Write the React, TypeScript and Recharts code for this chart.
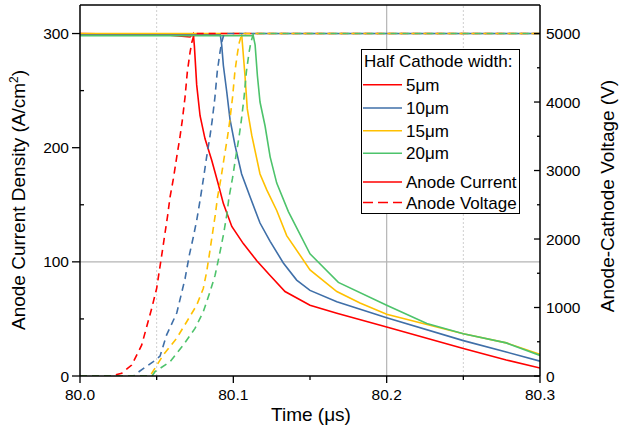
import React from 'react';
import { LineChart, Line, XAxis, YAxis, ReferenceLine } from 'recharts';

// time axis (µs) and tick positions
const timeTicks = [80.0, 80.05, 80.1, 80.15, 80.2, 80.25, 80.3];
const currentTicks = [0, 50, 100, 150, 200, 250, 300];
const voltageTicks = [0, 500, 1000, 1500, 2000, 2500, 3000, 3500, 4000, 4500, 5000];

// anode current density (A/cm2), one array pair per half cathode width
const t5Cur = [80.0, 80.055, 80.0718, 80.0739, 80.0746, 80.0761, 80.0783, 80.0815, 80.0859, 80.0902, 80.0935, 80.099, 80.1065, 80.1153, 80.124, 80.1337, 80.15, 80.1675, 80.2, 80.25, 80.278, 80.3];
const cur5 = [300, 299, 297, 300, 289, 255, 228, 208, 189, 168, 151, 131, 116, 101, 88, 74, 62, 55, 43, 24, 14, 7];

const t10Cur = [80.0, 80.0915, 80.0924, 80.0935, 80.0957, 80.0978, 80.1011, 80.1054, 80.1109, 80.1174, 80.124, 80.1326, 80.1413, 80.15, 80.1675, 80.2, 80.25, 80.278, 80.3];
const cur10 = [299, 299, 290, 272, 249, 225, 202, 177, 157, 134, 118, 99, 84, 75, 65, 51, 31, 21, 13];

const t15Cur = [80.0, 80.1054, 80.106, 80.1076, 80.1091, 80.112, 80.1174, 80.1218, 80.1283, 80.1348, 80.15, 80.1675, 80.1826, 80.2, 80.25, 80.278, 80.3];
const cur15 = [300, 300, 290, 263, 234, 211, 177, 163, 145, 123, 93, 74, 64, 54, 37, 29, 19];

const t20Cur = [80.0, 80.113, 80.1142, 80.1157, 80.1174, 80.1207, 80.124, 80.1283, 80.1359, 80.15, 80.1685, 80.2, 80.2262, 80.25, 80.278, 80.3];
const cur20 = [298, 298, 290, 263, 240, 219, 192, 169, 144, 107, 82, 62, 46, 37, 29, 18];

// anode-cathode voltage (V)
const t5Vol = [80.0, 80.02, 80.0272, 80.0337, 80.0402, 80.0468, 80.05, 80.0533, 80.0554, 80.0572, 80.0587, 80.0609, 80.0631, 80.0652, 80.0667, 80.0685, 80.07, 80.0718, 80.0729, 80.0746, 80.3];
const vol5 = [0, 0, 40, 160, 450, 990, 1280, 1764, 2080, 2350, 2610, 2880, 3200, 3490, 3730, 4070, 4440, 4730, 4870, 5000, 5000];

const t10Vol = [80.0, 80.035, 80.037, 80.0478, 80.0522, 80.0565, 80.0631, 80.0685, 80.0713, 80.0739, 80.0761, 80.0783, 80.0805, 80.0826, 80.0847, 80.0862, 80.088, 80.0895, 80.0913, 80.0924, 80.094, 80.3];
const vol10 = [0, 0, 40, 210, 290, 600, 920, 1420, 1764, 2030, 2270, 2565, 2880, 3200, 3490, 3730, 4070, 4440, 4730, 4870, 5000, 5000];

const t15Vol = [80.0, 80.045, 80.0468, 80.0543, 80.063, 80.0696, 80.0761, 80.0804, 80.0826, 80.0843, 80.0864, 80.0882, 80.0897, 80.0919, 80.0941, 80.0962, 80.0977, 80.0995, 80.101, 80.1028, 80.1039, 80.1056, 80.3];
const vol15 = [0, 0, 40, 306, 550, 792, 1035, 1278, 1520, 1764, 2080, 2350, 2610, 2880, 3200, 3490, 3730, 4070, 4440, 4730, 4870, 5000, 5000];

const t20Vol = [80.0, 80.047, 80.0489, 80.0587, 80.0674, 80.075, 80.0804, 80.0848, 80.0881, 80.0909, 80.0937, 80.0957, 80.0972, 80.0994, 80.1016, 80.1037, 80.1052, 80.107, 80.1085, 80.1103, 80.1114, 80.1131, 80.3];
const vol20 = [0, 0, 63, 208, 452, 695, 937, 1229, 1472, 1764, 2080, 2350, 2610, 2880, 3200, 3490, 3730, 4070, 4440, 4730, 4870, 5000, 5000];

const widths = ['5μm', '10μm', '15μm', '20μm'];
const colors = ['#ff0000', '#3f6fa8', '#ffc000', '#4dc36b'];

const curMax = 325;
const volMax = (curMax / 300) * 5000;
const FONT = '"Liberation Sans", Arial, sans-serif';

const rows = (ts: number[], vs: number[]) => ts.map((t, i) => ({ t, v: vs[i] }));

const currentSeries = [rows(t5Cur, cur5), rows(t10Cur, cur10), rows(t15Cur, cur15), rows(t20Cur, cur20)];
const voltageSeries = [rows(t5Vol, vol5), rows(t10Vol, vol10), rows(t15Vol, vol15), rows(t20Vol, vol20)];

const isMajor = (v: number, step: number) => Math.abs(v / step - Math.round(v / step)) < 1e-6;

const LeftTick = (props: any) => {
    const { x, y, payload } = props;
    const major = isMajor(payload.value, 100);
    return (
        <g>
            <line x1={major ? x - 8 : x} x2={major ? x : x + 4} y1={y} y2={y} stroke="#000" strokeWidth={1.3} />
            {major && (
                <text x={x - 11} y={y + 5.5} textAnchor="end" fontSize={15.5} fontFamily={FONT} fill="#000">
                    {payload.value}
                </text>
            )}
        </g>
    );
};

const RightTick = (props: any) => {
    const { x, y, payload } = props;
    const major = isMajor(payload.value, 1000);
    return (
        <g>
            <line x1={x - (major ? 6 : 3)} x2={x} y1={y} y2={y} stroke="#000" strokeWidth={1.3} />
            {major && (
                <text x={x + 6} y={y + 5.5} textAnchor="start" fontSize={15.5} fontFamily={FONT} fill="#000">
                    {payload.value}
                </text>
            )}
        </g>
    );
};

const BottomTick = (props: any) => {
    const { x, y, payload } = props;
    const major = isMajor(payload.value, 0.1);
    return (
        <g>
            <line x1={x} x2={x} y1={y} y2={y + (major ? 7 : 4)} stroke="#000" strokeWidth={1.3} />
            {major && (
                <text x={x} y={y + 23.5} textAnchor="middle" fontSize={15.5} fontFamily={FONT} fill="#000">
                    {payload.value.toFixed(1)}
                </text>
            )}
        </g>
    );
};

const ChartLegend = () => {
    const rowY = [35.7, 59, 81.7, 104.3];
    return (
        <svg width={160} height={166} style={{ position: 'absolute', left: 361, top: 49 }}>
            <rect x={0.5} y={0.5} width={158} height={164} fill="#fff" stroke="#000" strokeWidth={1} />
            <text x={3} y={18} fontSize={17} fontFamily={FONT} fill="#000">Half Cathode width:</text>
            {widths.map((w, i) => (
                <g key={w}>
                    <line x1={2} x2={41} y1={rowY[i]} y2={rowY[i]} stroke={colors[i]} strokeWidth={1.6} />
                    <text x={45} y={rowY[i] + 6} fontSize={17} fontFamily={FONT} fill="#000">{w}</text>
                </g>
            ))}
            <line x1={2} x2={41} y1={133} y2={133} stroke="#ff0000" strokeWidth={1.6} />
            <text x={45} y={139} fontSize={17} fontFamily={FONT} fill="#000">Anode Current</text>
            <line x1={2} x2={41} y1={153.5} y2={153.5} stroke="#ff0000" strokeWidth={1.6} strokeDasharray="10 5" />
            <text x={45} y={159.5} fontSize={17} fontFamily={FONT} fill="#000">Anode Voltage</text>
        </svg>
    );
};

const App: React.FC = () => {
    return (
        <div style={{ position: 'absolute', left: 0, top: 0, width: 619, height: 437, background: '#fff' }}>
            <LineChart width={619} height={437} margin={{ top: 5, right: 0, left: 0, bottom: 0 }}>
                <XAxis
                    type="number"
                    dataKey="t"
                    domain={[80, 80.3]}
                    ticks={timeTicks}
                    allowDataOverflow
                    height={61}
                    tickSize={0}
                    tickMargin={0}
                    tick={BottomTick}
                    axisLine={{ stroke: '#000', strokeWidth: 1.5 }}
                    label={{
                        content: () => (
                            <text x={311} y={421} textAnchor="middle" fontSize={19} fontFamily={FONT} fill="#000">
                                Time (μs)
                            </text>
                        ),
                    }}
                />
                <YAxis
                    yAxisId="cur"
                    orientation="left"
                    width={80}
                    domain={[0, curMax]}
                    ticks={currentTicks}
                    allowDataOverflow
                    tickSize={0}
                    tickMargin={0}
                    tick={LeftTick}
                    axisLine={{ stroke: '#000', strokeWidth: 1.5 }}
                    label={{
                        content: () => (
                            <text transform="translate(25,200) rotate(-90)" textAnchor="middle" fontSize={19} fontFamily={FONT} fill="#000">
                                Anode Current Density (A/cm<tspan fontSize={12} dy={-7}>2</tspan><tspan dy={7}>)</tspan>
                            </text>
                        ),
                    }}
                />
                <YAxis
                    yAxisId="vol"
                    orientation="right"
                    width={79}
                    domain={[0, volMax]}
                    ticks={voltageTicks}
                    allowDataOverflow
                    tickSize={0}
                    tickMargin={0}
                    tick={RightTick}
                    axisLine={{ stroke: '#000', strokeWidth: 1.5 }}
                    label={{
                        content: () => (
                            <text transform="translate(614,196) rotate(-90)" textAnchor="middle" fontSize={19} fontFamily={FONT} fill="#000">
                                Anode-Cathode Voltage (V)
                            </text>
                        ),
                    }}
                />
                <ReferenceLine yAxisId="cur" y={100} stroke="#b4b4b4" strokeWidth={1.2} />
                <ReferenceLine yAxisId="cur" y={300} stroke="#b4b4b4" strokeWidth={1.2} />
                <ReferenceLine yAxisId="cur" x={80.2} stroke="#b4b4b4" strokeWidth={1.2} />
                <ReferenceLine yAxisId="cur" x={80.05} stroke="#cfcfcf" strokeWidth={1} strokeDasharray="2 2" />
                <ReferenceLine yAxisId="cur" x={80.25} stroke="#cfcfcf" strokeWidth={1} strokeDasharray="2 2" />
                <ReferenceLine yAxisId="cur" y={curMax} stroke="#000" strokeWidth={1.5} />
                {currentSeries.map((d, i) => (
                    <Line
                        key={'c' + i}
                        yAxisId="cur"
                        data={d}
                        dataKey="v"
                        type="linear"
                        stroke={colors[i]}
                        strokeWidth={1.6}
                        dot={false}
                        activeDot={false}
                        isAnimationActive={false}
                    />
                ))}
                {voltageSeries.map((d, i) => (
                    <Line
                        key={'v' + i}
                        yAxisId="vol"
                        data={d}
                        dataKey="v"
                        type="linear"
                        stroke={colors[i]}
                        strokeWidth={1.6}
                        strokeDasharray="7 5"
                        dot={false}
                        activeDot={false}
                        isAnimationActive={false}
                    />
                ))}
            </LineChart>
            <ChartLegend />
        </div>
    );
};

export default App;
